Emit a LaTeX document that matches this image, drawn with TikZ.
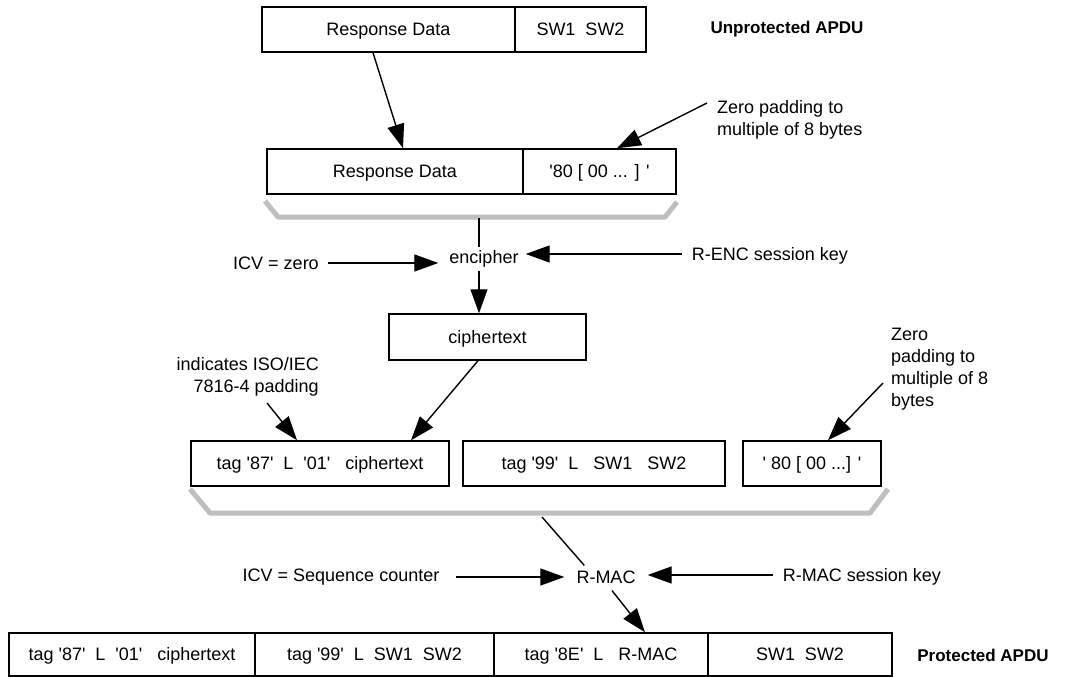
\documentclass[tikz,border=0pt]{standalone}
\usepackage{fontspec}
\newfontfamily\lsans{Liberation Sans}
\usetikzlibrary{arrows.meta}
\begin{document}
\begin{tikzpicture}[x=1pt,y=-1pt,
  txt/.style={font=\lsans\fontsize{18}{22}\selectfont},
  cell/.style={txt, draw, line width=1.5pt, minimum height=45pt, inner sep=0pt, text height=12.9pt, text depth=0pt, anchor=center},
  lbl/.style={txt, inner sep=0pt},
  boldlbl/.style={font=\lsans\bfseries\fontsize{17}{21}\selectfont, inner sep=0pt},
  arr/.style={-{Triangle[length=24pt,width=17pt]}, line width=1.4pt},
  plain/.style={line width=1.4pt},
  brk/.style={draw=black!25, line width=5pt, line join=round}]
\useasboundingbox (0,0) rectangle (1068,677);
\fill[white] (0,0) rectangle (1068,677);

% unprotected APDU
\node[cell, minimum width=253pt] (rd1) at (388.5,29.5) {Response Data};
\node[cell, minimum width=131pt] (sw) at (580.5,29.5) {SW1\ \ SW2};
\node[boldlbl] (unp) at (787,29) {Unprotected APDU};

% padded data
\node[cell, minimum width=256pt] (rd2) at (395,171.5) {Response Data};
\node[cell, minimum width=153pt] (pad) at (599.5,171.5) {'80 [ 00 ... ] '};
\draw[arr] ([xshift=-15.5pt]rd1.south) -- ([xshift=8pt]rd2.north);
\node[lbl, align=left, anchor=west] (zp1) at (717,120) {Zero padding to\\multiple of 8 bytes};
\coordinate (zp1a) at (707,103);
\draw[arr] (zp1a) -- ([xshift=17.5pt]pad.north);
\draw[brk] (265,201) -- (278,217) -- (665,217) -- (677,202);
\coordinate (b1c) at (479,218);

% encipher
\node[lbl, inner ysep=3pt] (enc) at (484,259) {encipher};
\draw[plain] (b1c) -- (b1c |- enc.north);
\node[cell, minimum width=197pt, minimum height=46pt] (cipher) at (487.5,337) {ciphertext};
\draw[arr] (enc.south -| b1c) -- (cipher.north -| b1c);
\node[lbl] (icv0) at (276,263) {ICV = zero};
\draw[arr] ([xshift=9pt]icv0.east) -- ([xshift=-11pt]icv0.east -| enc.west);
\node[lbl] (renc) at (770,256) {R-ENC session key};
\draw[arr] ([xshift=-10pt,yshift=2pt]renc.west) -- ([xshift=7pt,yshift=2pt]renc.west -| enc.east);

% TLV objects
\node[lbl, align=right, anchor=east] (iso) at (319,376.5) {indicates ISO/IEC\\7816-4 padding};
\coordinate (isoa) at (267,403);
\node[cell, minimum width=258pt] (t87) at (320,463.5) {tag '87'\ \ L\ \ '01'\ \ \ ciphertext};
\node[cell, minimum width=262pt] (t99) at (594,463.5) {tag '99'\ \ L\ \ \ SW1\ \ \ SW2};
\node[cell, minimum width=138pt] (p80) at (812,463.5) {' 80 [ 00 ...] '};
\draw[arr] (isoa) -- ([xshift=-23pt]t87.north);
\draw[arr] ([xshift=-9.5pt]cipher.south) -- ([xshift=91pt]t87.north);
\node[lbl, align=left, anchor=west] (zp2) at (891,369) {Zero\\padding to\\multiple of 8\\bytes};
\coordinate (zp2a) at (883,383);
\draw[arr] (zp2a) -- ([xshift=16pt]p80.north);
\draw[brk] (190,489) -- (210,513) -- (870,513) -- (888,489);
\coordinate (b2c) at (542,517);

% R-MAC
\node[lbl, inner sep=0pt] (rmac) at (606,577) {R-MAC};
\draw[plain] (b2c) -- ([xshift=8pt,yshift=5pt]rmac.north west);
\node[lbl] (icvs) at (341,577) {ICV = Sequence counter};
\draw[arr] ([xshift=16pt]icvs.east) -- ([xshift=-12pt]icvs.east -| rmac.west);
\node[lbl] (rmk) at (862,577) {R-MAC session key};
\draw[arr] ([xshift=-10pt,yshift=2pt]rmk.west) -- ([xshift=12pt,yshift=2pt]rmk.west -| rmac.east);

% protected APDU
\node[cell, minimum width=246pt, minimum height=43pt] (m1) at (132,654.5) {tag '87'\ \ L\ \ '01'\ \ \ ciphertext};
\node[cell, minimum width=239pt, minimum height=43pt] (m2) at (374.5,654.5) {tag '99'\ \ L\ \ SW1\ \ SW2};
\node[cell, minimum width=214pt, minimum height=43pt] (m3) at (601,654.5) {tag '8E'\ \ L\ \ \ R-MAC};
\node[cell, minimum width=184pt, minimum height=43pt] (m4) at (800,654.5) {SW1\ \ SW2};
\draw[arr] ([xshift=6pt,yshift=-7pt]rmac.south) -- ([xshift=44pt]m3.north);
\node[boldlbl] (prot) at (983,655) {Protected APDU};
\end{tikzpicture}
\end{document}
